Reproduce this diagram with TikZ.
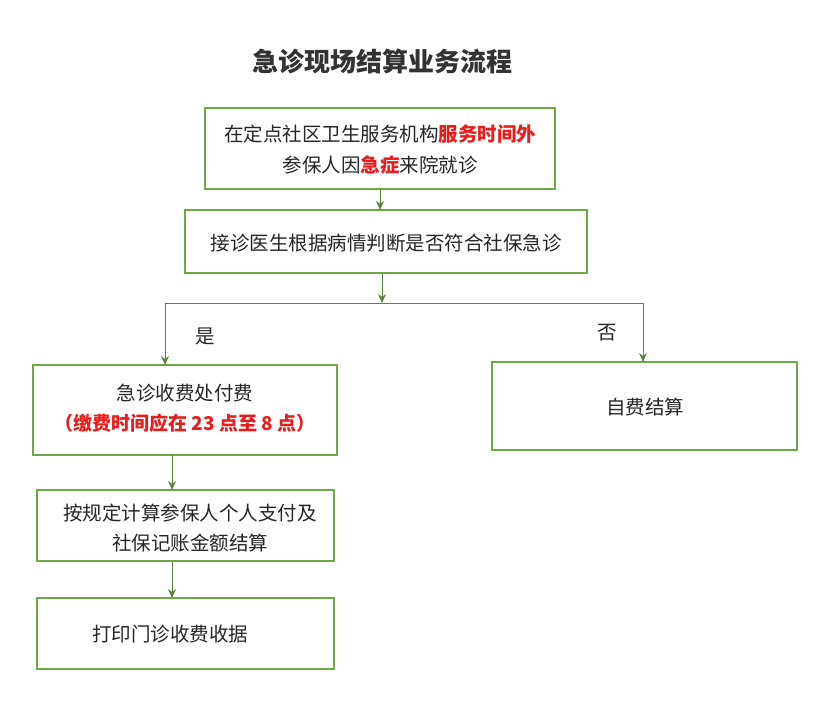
\documentclass[tikz,border=0pt]{standalone}
\usepackage{fontspec}
\setmainfont{Noto Sans CJK SC}
\usetikzlibrary{arrows.meta}
\definecolor{gr}{RGB}{112,168,72}
\definecolor{rd}{RGB}{230,30,30}
\begin{document}
\begin{tikzpicture}[x=1pt,y=-1pt,
  box/.style={draw=gr,line width=2pt,inner sep=0pt},
  txt/.style={font=\fontsize{19.5}{22}\selectfont,text=black!85},
  arr/.style={draw=gr!80!black,line width=1pt,-{Stealth[length=9pt,width=8pt]}}]
\useasboundingbox[fill=white] (0,0) rectangle (824,701);
\node[font=\fontsize{26}{30}\selectfont\bfseries,text=black!80] (title) at (382,62) {急诊现场结算业务流程};
\draw[box] (205,108) rectangle (555,189); \coordinate (b1t) at (380,108); \coordinate (b1b) at (380,189);
\node[txt] (t1a) at (380,134) {在定点社区卫生服务机构\textcolor{rd}{\bfseries 服务时间外}};
\node[txt] (t1b) at (380,165) {参保人因\textcolor{rd}{\bfseries 急症}来院就诊};
\draw[box] (185,210) rectangle (587,273); \coordinate (b2t) at (380,210); \coordinate (b2b) at (382,273);
\node[txt] (t2) at (386,243) {接诊医生根据病情判断是否符合社保急诊};
\coordinate (split) at (382,303);
\coordinate (sl) at (165,303); \coordinate (sr) at (643,303);
\draw[box] (33,365) rectangle (337,455); \coordinate (b3t) at (165,365); \coordinate (b3b) at (172,455);
\node[txt] (t3a) at (185,393) {急诊收费处付费};
\node[txt,text=rd,font=\fontsize{19}{22}\selectfont\bfseries] (t3b) at (185,423) {（缴费时间应在 23 点至 8 点）};
\draw[box] (492,362) rectangle (797,450); \coordinate (b4t) at (643,362);
\node[txt] (t4) at (645,407) {自费结算};
\draw[box] (37,490) rectangle (334,561); \coordinate (b5t) at (172,490); \coordinate (b5b) at (172,561);
\node[txt] (t5a) at (190,513) {按规定计算参保人个人支付及};
\node[txt] (t5b) at (190,543) {社保记账金额结算};
\draw[box] (37,598) rectangle (334,669); \coordinate (b6t) at (172,598);
\node[txt] (t6) at (170,634) {打印门诊收费收据};
\node[txt] (yes) at (205,336) {是};
\node[txt] (no) at (607,333) {否};
\draw[arr] (b1b) -- (b2t);
\draw[arr] (b2b) -- (split);
\draw[draw=gr!80!black,line width=1pt] (sl) -- (sr);
\draw[arr] (sl) -- (b3t);
\draw[arr] (sr) -- (b4t);
\draw[arr] (b3b) -- (b5t);
\draw[arr] (b5b) -- (b6t);
\end{tikzpicture}
\end{document}
